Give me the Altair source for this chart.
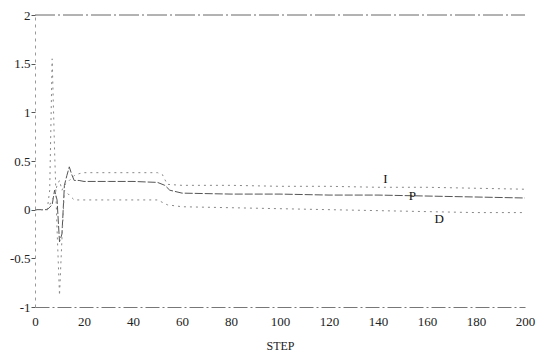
import altair as alt
import pandas as pd

steps_P = [0, 5, 7, 8, 9, 10, 11, 12, 13, 14, 15, 16, 18, 20, 30, 40, 50, 53, 55, 60, 80, 100, 120, 140, 160, 180, 200]
vals_P = [0, 0, 0.05, 0.2, 0.1, -0.33, -0.25, 0.25, 0.35, 0.44, 0.36, 0.3, 0.3, 0.29, 0.29, 0.29, 0.28, 0.25, 0.2, 0.17, 0.16, 0.16, 0.15, 0.15, 0.14, 0.13, 0.12]

steps_I = [0, 5, 8, 9, 10, 11, 12, 14, 16, 18, 20, 30, 40, 50, 52, 54, 60, 80, 100, 120, 140, 160, 180, 200]
vals_I = [0, 0, 0.15, 0.25, 0.3, 0.2, 0.25, 0.3, 0.35, 0.37, 0.38, 0.38, 0.38, 0.38, 0.36, 0.26, 0.25, 0.25, 0.24, 0.24, 0.23, 0.23, 0.22, 0.21]

steps_D = [0, 5, 6, 7, 8, 9, 10, 11, 12, 14, 16, 18, 20, 30, 40, 50, 54, 60, 80, 100, 120, 140, 160, 180, 200]
vals_D = [0, 0, 0.2, 1.55, 0.6, -0.2, -0.88, -0.3, 0.2, 0.15, 0.1, 0.1, 0.1, 0.1, 0.1, 0.1, 0.05, 0.03, 0.02, 0.01, 0.0, -0.01, -0.02, -0.03, -0.03]

label_text = ["I", "P", "D"]
label_step = [143, 154, 165]
label_val = [0.31, 0.14, -0.1]

x_ticks = [0, 20, 40, 60, 80, 100, 120, 140, 160, 180, 200]
y_ticks = [-1, -0.5, 0, 0.5, 1, 1.5, 2]

dfP = pd.DataFrame({"step": steps_P, "val": vals_P})
dfI = pd.DataFrame({"step": steps_I, "val": vals_I})
dfD = pd.DataFrame({"step": steps_D, "val": vals_D})
dfL = pd.DataFrame({"txt": label_text, "step": label_step, "val": label_val})

FONT = "Liberation Serif"

xs = alt.Scale(domain=[0, 200], nice=False)
ys = alt.Scale(domain=[-1, 2], nice=False)

xenc = alt.X("step:Q", scale=xs, axis=alt.Axis(
    values=x_ticks, title="STEP", grid=False, ticks=False, labelFlush=False,
    labelFont=FONT, labelFontSize=13, labelColor="#222", labelPadding=8,
    titleFont=FONT, titleFontSize=12, titleFontWeight="normal", titleColor="#222",
    titlePadding=12, domainColor="#777", domainDash=[14, 3, 2, 3]))
yenc = alt.Y("val:Q", scale=ys, axis=alt.Axis(
    values=y_ticks, title=None, grid=False, tickSize=4, tickColor="#555",
    labelExpr="'' + datum.value", labelFlush=False,
    labelFont=FONT, labelFontSize=13, labelColor="#222", labelPadding=1,
    domainColor="#999", domainDash=[3, 4]))

lineP = alt.Chart(dfP).mark_line(color="#555", strokeWidth=1, strokeDash=[8, 2]).encode(x=xenc, y=yenc)
lineI = alt.Chart(dfI).mark_line(color="#888", strokeWidth=1, strokeDash=[2, 4]).encode(x="step:Q", y="val:Q")
lineD = alt.Chart(dfD).mark_line(color="#888", strokeWidth=1, strokeDash=[2, 4]).encode(x="step:Q", y="val:Q")

top = alt.Chart(pd.DataFrame({"v": [2]})).mark_rule(color="#666", strokeWidth=1, strokeDash=[20, 3, 2, 3]).encode(
    y=alt.Y("v:Q", scale=ys), x=alt.value(0), x2=alt.value(490))

labels = alt.Chart(dfL).mark_text(font=FONT, fontSize=13, color="#111").encode(
    x="step:Q", y="val:Q", text="txt:N")

chart = alt.layer(top, lineP, lineI, lineD, labels).properties(
    width=490, height=292,
    autosize=alt.AutoSizeParams(type="none"),
    padding={"left": 27, "top": 7, "right": 20, "bottom": 45},
    background="white",
).configure_view(stroke=None)

chart.save("out.html", embed_options={"renderer": "svg", "actions": False})
